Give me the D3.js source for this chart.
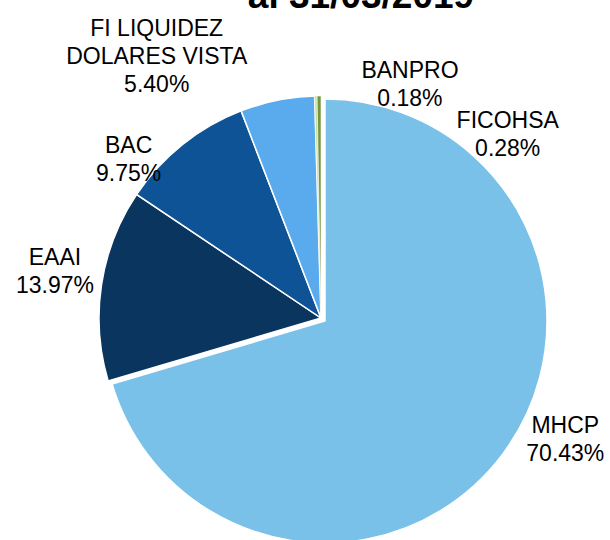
<!DOCTYPE html>
<html>
<head>
<meta charset="utf-8">
<script src="https://cdn.jsdelivr.net/npm/d3@7"></script>
<style>
  body { margin: 0; background: #fff; }
  svg text { font-family: "Liberation Sans", Arial, sans-serif; fill: #000; }
</style>
</head>
<body>
<div id="chart"></div>
<script>
// data
let names = ["MHCP", "EAAI", "BAC", "FI LIQUIDEZ\nDOLARES VISTA", "BANPRO", "FICOHSA"];
let values = [70.43, 13.97, 9.75, 5.40, 0.18, 0.28];
let colors = ["#79c1e8", "#0a355e", "#0e5395", "#59abee", "#c4dfa2", "#77933c"];
let titleText = "al 31/03/2019";

function main(){
    let width = 610;
    let height = 540;
    let cx = 321, cy = 318;
    let radius = 222;
    let labelR = 260;
    let explode = [5, 0, 0, 0, 0, 0];
    // label nudges from the point at labelR (first line baseline)
    let labelShift = [[36, -41], [-9, -14], [-30, 38], [-113, -27], [95, 20], [189, 70]];

    let svg = d3.select("#chart")
                .append("svg")
                .attr("width", width)
                .attr("height", height)

    // title sits partly above the top edge, as in the reference
    svg.append("text")
        .attr("x", 361)
        .attr("y", 8)
        .attr("text-anchor", "middle")
        .attr("font-size", 37)
        .attr("font-weight", "bold")
        .text(titleText)

    let data = names.map((n, i) => ({name: n, value: values[i], color: colors[i], idx: i}));

    let pie = d3.pie().sort(null).value(d => d.value);
    let arcs = pie(data);

    let arc = d3.arc().innerRadius(0).outerRadius(radius);
    let labelArc = d3.arc().innerRadius(labelR).outerRadius(labelR);

    let g = svg.append("g").attr("transform", `translate(${cx},${cy})`);

    g.selectAll("path")
        .data(arcs)
        .enter()
        .append("path")
        .attr("d", arc)
        .attr("fill", d => d.data.color)
        .attr("stroke", "#fff")
        .attr("stroke-width", d => d.data.value < 1 ? 0.6 : 1.5)
        .attr("transform", d => {
            let mid = (d.startAngle + d.endAngle) / 2;
            let e = explode[d.data.idx];
            return `translate(${e * Math.sin(mid)},${-e * Math.cos(mid)})`;
        })

    let lineH = 28;
    let labels = g.selectAll("text.lbl")
        .data(arcs)
        .enter()
        .append("text")
        .attr("class", "lbl")
        .attr("text-anchor", "middle")
        .attr("font-size", 23)
        .attr("transform", d => {
            let c = labelArc.centroid(d);
            let s = labelShift[d.data.idx];
            return `translate(${c[0] + s[0]},${c[1] + s[1]})`;
        })

    labels.each(function(d){
        let lines = d.data.name.split("\n").concat([d.data.value.toFixed(2) + "%"]);
        d3.select(this).selectAll("tspan")
            .data(lines)
            .enter()
            .append("tspan")
            .attr("x", 0)
            .attr("y", (l, i) => i * lineH)
            .text(l => l)
    })
}

main();
</script>
</body>
</html>
